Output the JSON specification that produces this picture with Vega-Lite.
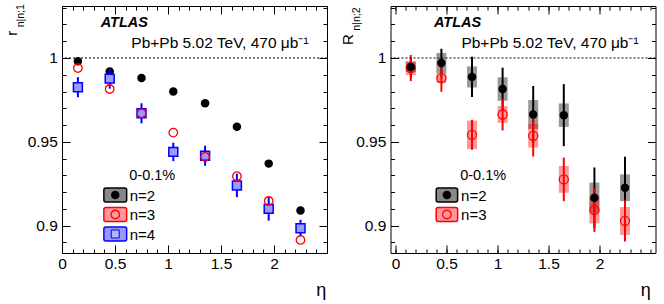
{
  "$schema": "https://vega.github.io/schema/vega-lite/v6.json",
  "background": "white",
  "padding": {"left": 4, "top": 3, "right": 0, "bottom": 0},
  "spacing": 63.5,
  "bounds": "flush",
  "datasets": {
    "left": [
      {"n": "n=2", "eta": 0.15, "v": 0.998},
      {"n": "n=2", "eta": 0.45, "v": 0.992},
      {"n": "n=2", "eta": 0.75, "v": 0.988},
      {"n": "n=2", "eta": 1.05, "v": 0.980},
      {"n": "n=2", "eta": 1.35, "v": 0.973},
      {"n": "n=2", "eta": 1.65, "v": 0.959},
      {"n": "n=2", "eta": 1.95, "v": 0.937},
      {"n": "n=2", "eta": 2.25, "v": 0.909},
      {"n": "n=3", "eta": 0.15, "v": 0.994},
      {"n": "n=3", "eta": 0.45, "v": 0.9815},
      {"n": "n=3", "eta": 0.75, "v": 0.967},
      {"n": "n=3", "eta": 1.05, "v": 0.9555},
      {"n": "n=3", "eta": 1.35, "v": 0.941},
      {"n": "n=3", "eta": 1.65, "v": 0.9295},
      {"n": "n=3", "eta": 1.95, "v": 0.9147},
      {"n": "n=3", "eta": 2.25, "v": 0.8915},
      {"n": "n=4", "eta": 0.15, "v": 0.9826, "lo": 0.9766, "hi": 0.9886},
      {"n": "n=4", "eta": 0.45, "v": 0.9877, "lo": 0.9817, "hi": 0.9937},
      {"n": "n=4", "eta": 0.75, "v": 0.967, "lo": 0.961, "hi": 0.973},
      {"n": "n=4", "eta": 1.05, "v": 0.944, "lo": 0.9385, "hi": 0.9495},
      {"n": "n=4", "eta": 1.35, "v": 0.9417, "lo": 0.9357, "hi": 0.9477},
      {"n": "n=4", "eta": 1.65, "v": 0.924, "lo": 0.917, "hi": 0.931},
      {"n": "n=4", "eta": 1.95, "v": 0.910, "lo": 0.903, "hi": 0.917},
      {"n": "n=4", "eta": 2.25, "v": 0.8985, "lo": 0.8935, "hi": 0.9035}
    ],
    "right": [
      {"n": "n=2", "eta": 0.15, "v": 0.9946, "lo": 0.9886, "hi": 1.0006, "slo": 0.9916, "shi": 0.9976},
      {"n": "n=2", "eta": 0.45, "v": 0.997, "lo": 0.9885, "hi": 1.0055, "slo": 0.991, "shi": 1.003},
      {"n": "n=2", "eta": 0.75, "v": 0.9887, "lo": 0.9767, "hi": 1.0007, "slo": 0.9824, "shi": 0.995},
      {"n": "n=2", "eta": 1.05, "v": 0.9815, "lo": 0.9688, "hi": 0.9942, "slo": 0.9745, "shi": 0.9885},
      {"n": "n=2", "eta": 1.35, "v": 0.9663, "lo": 0.9493, "hi": 0.9833, "slo": 0.9577, "shi": 0.9749},
      {"n": "n=2", "eta": 1.65, "v": 0.9659, "lo": 0.9474, "hi": 0.9844, "slo": 0.9589, "shi": 0.9729},
      {"n": "n=2", "eta": 1.95, "v": 0.9167, "lo": 0.8987, "hi": 0.9347, "slo": 0.9077, "shi": 0.9257},
      {"n": "n=2", "eta": 2.25, "v": 0.9226, "lo": 0.9041, "hi": 0.9411, "slo": 0.9146, "shi": 0.9306},
      {"n": "n=3", "eta": 0.15, "v": 0.994, "lo": 0.9862, "hi": 1.0018, "slo": 0.9898, "shi": 0.9982},
      {"n": "n=3", "eta": 0.45, "v": 0.988, "lo": 0.9798, "hi": 0.9962, "slo": 0.985, "shi": 0.991},
      {"n": "n=3", "eta": 0.75, "v": 0.9542, "lo": 0.9452, "hi": 0.9632, "slo": 0.9457, "shi": 0.9627},
      {"n": "n=3", "eta": 1.05, "v": 0.9663, "lo": 0.9568, "hi": 0.9758, "slo": 0.9613, "shi": 0.9713},
      {"n": "n=3", "eta": 1.35, "v": 0.9536, "lo": 0.9412, "hi": 0.966, "slo": 0.9466, "shi": 0.9606},
      {"n": "n=3", "eta": 1.65, "v": 0.9276, "lo": 0.9146, "hi": 0.9406, "slo": 0.9196, "shi": 0.9356},
      {"n": "n=3", "eta": 1.95, "v": 0.9093, "lo": 0.8963, "hi": 0.9223, "slo": 0.9013, "shi": 0.9173},
      {"n": "n=3", "eta": 2.25, "v": 0.9028, "lo": 0.8905, "hi": 0.9151, "slo": 0.8945, "shi": 0.9111}
    ]
  },
  "hconcat": [
    {
      "width": 265,
      "height": 247,
      "data": {"name": "left"},
      "resolve": {"axis": {"x": "independent", "y": "independent"}},
      "layer": [
        {
          "data": {"values": [{}]},
          "mark": {"type": "rule", "strokeDash": [2, 2], "color": "black", "strokeWidth": 1},
          "encoding": {"y": {"datum": 1, "type": "quantitative", "scale": {"domain": [0.8837, 1.031], "nice": false, "zero": false}, "axis": null}}
        },
        {
          "transform": [{"filter": "datum.n == 'n=2'"}],
          "mark": {"type": "point", "shape": "circle", "filled": true, "color": "black", "size": 72, "opacity": 1},
          "encoding": {
            "x": {"field": "eta", "type": "quantitative", "scale": {"domain": [0, 2.5], "nice": false, "zero": false},
                  "axis": {"orient": "bottom", "values": [0, 0.5, 1, 1.5, 2], "format": "~g", "tickSize": -8, "labelPadding": 11.5, "title": null}},
            "y": {"field": "v", "type": "quantitative", "scale": {"domain": [0.8837, 1.031], "nice": false, "zero": false},
                  "axis": {"orient": "left", "values": [0.9, 0.95, 1], "format": "~g", "tickSize": -8, "labelPadding": 12.7, "title": null}}
          }
        },
        {
          "transform": [{"filter": "datum.n == 'n=4'"}],
          "mark": {"type": "rule", "color": "blue", "strokeWidth": 2},
          "encoding": {
            "x": {"field": "eta", "type": "quantitative",
                  "axis": {"orient": "bottom", "values": [0, 0.1, 0.2, 0.3, 0.4, 0.5, 0.6, 0.7, 0.8, 0.9, 1, 1.1, 1.2, 1.3, 1.4, 1.5, 1.6, 1.7, 1.8, 1.9, 2, 2.1, 2.2, 2.3, 2.4, 2.5], "tickSize": -4, "labels": false, "title": null}},
            "y": {"field": "lo", "type": "quantitative",
                  "axis": {"orient": "left", "values": [0.89, 0.9, 0.91, 0.92, 0.93, 0.94, 0.95, 0.96, 0.97, 0.98, 0.99, 1, 1.01, 1.02, 1.03], "tickSize": -4, "labels": false, "title": null}},
            "y2": {"field": "hi"}
          }
        },
        {
          "transform": [{"filter": "datum.n == 'n=4'"}],
          "mark": {"type": "point", "shape": "square", "filled": true, "fill": "#9999ff", "stroke": "blue", "strokeWidth": 1.5, "size": 80, "opacity": 1},
          "encoding": {
            "x": {"field": "eta", "type": "quantitative",
                  "axis": {"orient": "top", "values": [0, 0.5, 1, 1.5, 2], "tickSize": -8, "labels": false, "title": null}},
            "y": {"field": "v", "type": "quantitative",
                  "axis": {"orient": "right", "values": [0.9, 0.95, 1], "tickSize": -8, "labels": false, "title": null}}
          }
        },
        {
          "transform": [{"filter": "datum.n == 'n=3'"}],
          "mark": {"type": "point", "shape": "circle", "filled": false, "color": "red", "strokeWidth": 1.3, "size": 72, "opacity": 1},
          "encoding": {
            "x": {"field": "eta", "type": "quantitative",
                  "axis": {"orient": "top", "values": [0, 0.1, 0.2, 0.3, 0.4, 0.5, 0.6, 0.7, 0.8, 0.9, 1, 1.1, 1.2, 1.3, 1.4, 1.5, 1.6, 1.7, 1.8, 1.9, 2, 2.1, 2.2, 2.3, 2.4, 2.5], "tickSize": -4, "labels": false, "title": null}},
            "y": {"field": "v", "type": "quantitative",
                  "axis": {"orient": "right", "values": [0.89, 0.9, 0.91, 0.92, 0.93, 0.94, 0.95, 0.96, 0.97, 0.98, 0.99, 1, 1.01, 1.02, 1.03], "tickSize": -4, "labels": false, "title": null}}
          }
        },
        {
          "data": {"values": [{}]},
          "mark": {"type": "text", "text": "ATLAS", "fontSize": 14.5, "fontWeight": "bold", "fontStyle": "italic", "align": "left", "baseline": "alphabetic"},
          "encoding": {"x": {"datum": 0.365, "type": "quantitative", "axis": null}, "y": {"datum": 1.0183, "type": "quantitative", "axis": null}}
        },
        {
          "data": {"values": [{}]},
          "mark": {"type": "text", "text": "Pb+Pb 5.02 TeV, 470 μb⁻¹", "fontSize": 15.5, "align": "left", "baseline": "alphabetic"},
          "encoding": {"x": {"datum": 0.654, "type": "quantitative", "axis": null}, "y": {"datum": 1.00595, "type": "quantitative", "axis": null}}
        },
        {
          "data": {"values": [{}]},
          "mark": {"type": "text", "text": "0-0.1%", "fontSize": 14.5, "align": "left", "baseline": "alphabetic"},
          "encoding": {"x": {"datum": 0.635, "type": "quantitative", "axis": null}, "y": {"datum": 0.92702, "type": "quantitative", "axis": null}}
        },
        {
          "data": {"values": [{}]},
          "mark": {"type": "rect", "fill": "#888888", "stroke": "black", "strokeWidth": 1.5, "cornerRadius": 2},
          "encoding": {"x": {"datum": 0.395, "type": "quantitative", "axis": null}, "x2": {"datum": 0.61}, "y": {"datum": 0.91411, "type": "quantitative", "axis": null}, "y2": {"datum": 0.92244}}
        },
        {
          "data": {"values": [{}]},
          "mark": {"type": "point", "shape": "circle", "filled": true, "color": "black", "size": 72, "opacity": 1},
          "encoding": {"x": {"datum": 0.5025, "type": "quantitative", "axis": null}, "y": {"datum": 0.91827, "type": "quantitative", "axis": null}}
        },
        {
          "data": {"values": [{}]},
          "mark": {"type": "rect", "fill": "#ff9999", "stroke": "red", "strokeWidth": 1.5, "cornerRadius": 2},
          "encoding": {"x": {"datum": 0.395, "type": "quantitative", "axis": null}, "x2": {"datum": 0.61}, "y": {"datum": 0.9025, "type": "quantitative", "axis": null}, "y2": {"datum": 0.91084}}
        },
        {
          "data": {"values": [{}]},
          "mark": {"type": "point", "shape": "circle", "filled": false, "color": "red", "strokeWidth": 1.3, "size": 72, "opacity": 1},
          "encoding": {"x": {"datum": 0.5025, "type": "quantitative", "axis": null}, "y": {"datum": 0.90667, "type": "quantitative", "axis": null}}
        },
        {
          "data": {"values": [{}]},
          "mark": {"type": "rect", "fill": "#9999ff", "stroke": "blue", "strokeWidth": 1.5, "cornerRadius": 2},
          "encoding": {"x": {"datum": 0.395, "type": "quantitative", "axis": null}, "x2": {"datum": 0.61}, "y": {"datum": 0.89089, "type": "quantitative", "axis": null}, "y2": {"datum": 0.89923}}
        },
        {
          "data": {"values": [{}]},
          "mark": {"type": "point", "shape": "square", "filled": true, "fill": "#b3b3ff", "stroke": "blue", "strokeWidth": 1, "size": 64, "opacity": 1},
          "encoding": {"x": {"datum": 0.5025, "type": "quantitative", "axis": null}, "y": {"datum": 0.89506, "type": "quantitative", "axis": null}}
        },
        {
          "data": {"values": [{}]},
          "mark": {"type": "text", "text": "n=2", "fontSize": 15, "align": "left", "baseline": "middle", "dy": 1},
          "encoding": {"x": {"datum": 0.638, "type": "quantitative", "axis": null}, "y": {"datum": 0.91827, "type": "quantitative", "axis": null}}
        },
        {
          "data": {"values": [{}]},
          "mark": {"type": "text", "text": "n=3", "fontSize": 15, "align": "left", "baseline": "middle", "dy": 1},
          "encoding": {"x": {"datum": 0.638, "type": "quantitative", "axis": null}, "y": {"datum": 0.90667, "type": "quantitative", "axis": null}}
        },
        {
          "data": {"values": [{}]},
          "mark": {"type": "text", "text": "n=4", "fontSize": 15, "align": "left", "baseline": "middle", "dy": 1},
          "encoding": {"x": {"datum": 0.638, "type": "quantitative", "axis": null}, "y": {"datum": 0.89506, "type": "quantitative", "axis": null}}
        },
        {
          "data": {"values": [{}]},
          "mark": {"type": "text", "text": "r", "fontSize": 15, "angle": 270, "align": "center", "baseline": "alphabetic"},
          "encoding": {"x": {"datum": -0.4217, "type": "quantitative", "axis": null}, "y": {"datum": 1.0147, "type": "quantitative", "axis": null}}
        },
        {
          "data": {"values": [{}]},
          "mark": {"type": "text", "text": "n|n;1", "fontSize": 10.5, "angle": 270, "align": "left", "baseline": "alphabetic"},
          "encoding": {"x": {"datum": -0.3557, "type": "quantitative", "axis": null}, "y": {"datum": 1.01827, "type": "quantitative", "axis": null}}
        },
        {
          "data": {"values": [{}]},
          "mark": {"type": "text", "text": "η", "fontSize": 18, "align": "center", "baseline": "alphabetic"},
          "encoding": {"x": {"datum": 2.446, "type": "quantitative", "axis": null}, "y": {"datum": 0.8582, "type": "quantitative", "axis": null}}
        }
      ]
    },
    {
      "width": 265,
      "height": 247,
      "data": {"name": "right"},
      "resolve": {"axis": {"x": "independent", "y": "independent"}},
      "layer": [
        {
          "data": {"values": [{}]},
          "mark": {"type": "rule", "strokeDash": [2, 2], "color": "black", "strokeWidth": 1},
          "encoding": {"y": {"datum": 1, "type": "quantitative", "scale": {"domain": [0.8837, 1.031], "nice": false, "zero": false}, "axis": null}}
        },
        {
          "transform": [{"filter": "datum.n == 'n=2'"}],
          "mark": {"type": "bar", "width": 10, "color": "black", "opacity": 0.4},
          "encoding": {
            "x": {"field": "eta", "type": "quantitative", "scale": {"domain": [0, 2.5], "nice": false, "zero": false},
                  "axis": {"orient": "bottom", "values": [0, 0.5, 1, 1.5, 2], "format": "~g", "tickSize": -8, "labelPadding": 11.5, "title": null}},
            "y": {"field": "slo", "type": "quantitative", "scale": {"domain": [0.8837, 1.031], "nice": false, "zero": false},
                  "axis": {"orient": "left", "values": [0.9, 0.95, 1], "format": "~g", "tickSize": -8, "labelPadding": 12.7, "title": null}},
            "y2": {"field": "shi"}
          }
        },
        {
          "transform": [{"filter": "datum.n == 'n=2'"}],
          "mark": {"type": "rule", "color": "black", "strokeWidth": 2},
          "encoding": {
            "x": {"field": "eta", "type": "quantitative",
                  "axis": {"orient": "bottom", "values": [0, 0.1, 0.2, 0.3, 0.4, 0.5, 0.6, 0.7, 0.8, 0.9, 1, 1.1, 1.2, 1.3, 1.4, 1.5, 1.6, 1.7, 1.8, 1.9, 2, 2.1, 2.2, 2.3, 2.4, 2.5], "tickSize": -4, "labels": false, "title": null}},
            "y": {"field": "lo", "type": "quantitative",
                  "axis": {"orient": "left", "values": [0.89, 0.9, 0.91, 0.92, 0.93, 0.94, 0.95, 0.96, 0.97, 0.98, 0.99, 1, 1.01, 1.02, 1.03], "tickSize": -4, "labels": false, "title": null}},
            "y2": {"field": "hi"}
          }
        },
        {
          "transform": [{"filter": "datum.n == 'n=3'"}],
          "mark": {"type": "bar", "width": 10, "color": "red", "opacity": 0.4},
          "encoding": {
            "x": {"field": "eta", "type": "quantitative",
                  "axis": {"orient": "top", "values": [0, 0.5, 1, 1.5, 2], "tickSize": -8, "labels": false, "title": null}},
            "y": {"field": "slo", "type": "quantitative",
                  "axis": {"orient": "right", "values": [0.9, 0.95, 1], "tickSize": -8, "labels": false, "title": null}},
            "y2": {"field": "shi"}
          }
        },
        {
          "transform": [{"filter": "datum.n == 'n=3'"}],
          "mark": {"type": "rule", "color": "red", "strokeWidth": 2},
          "encoding": {
            "x": {"field": "eta", "type": "quantitative",
                  "axis": {"orient": "top", "values": [0, 0.1, 0.2, 0.3, 0.4, 0.5, 0.6, 0.7, 0.8, 0.9, 1, 1.1, 1.2, 1.3, 1.4, 1.5, 1.6, 1.7, 1.8, 1.9, 2, 2.1, 2.2, 2.3, 2.4, 2.5], "tickSize": -4, "labels": false, "title": null}},
            "y": {"field": "lo", "type": "quantitative",
                  "axis": {"orient": "right", "values": [0.89, 0.9, 0.91, 0.92, 0.93, 0.94, 0.95, 0.96, 0.97, 0.98, 0.99, 1, 1.01, 1.02, 1.03], "tickSize": -4, "labels": false, "title": null}},
            "y2": {"field": "hi"}
          }
        },
        {
          "transform": [{"filter": "datum.n == 'n=3'"}],
          "mark": {"type": "point", "shape": "circle", "filled": false, "color": "red", "strokeWidth": 1.3, "size": 81, "opacity": 1},
          "encoding": {
            "x": {"field": "eta", "type": "quantitative", "axis": null},
            "y": {"field": "v", "type": "quantitative", "axis": null}
          }
        },
        {
          "transform": [{"filter": "datum.n == 'n=2'"}],
          "mark": {"type": "point", "shape": "circle", "filled": true, "color": "black", "size": 72, "opacity": 1},
          "encoding": {
            "x": {"field": "eta", "type": "quantitative", "axis": null},
            "y": {"field": "v", "type": "quantitative", "axis": null}
          }
        },
        {
          "data": {"values": [{}]},
          "mark": {"type": "text", "text": "ATLAS", "fontSize": 14.5, "fontWeight": "bold", "fontStyle": "italic", "align": "left", "baseline": "alphabetic"},
          "encoding": {"x": {"datum": 0.377, "type": "quantitative", "axis": null}, "y": {"datum": 1.0183, "type": "quantitative", "axis": null}}
        },
        {
          "data": {"values": [{}]},
          "mark": {"type": "text", "text": "Pb+Pb 5.02 TeV, 470 μb⁻¹", "fontSize": 15.5, "align": "left", "baseline": "alphabetic"},
          "encoding": {"x": {"datum": 0.646, "type": "quantitative", "axis": null}, "y": {"datum": 1.00595, "type": "quantitative", "axis": null}}
        },
        {
          "data": {"values": [{}]},
          "mark": {"type": "text", "text": "0-0.1%", "fontSize": 14.5, "align": "left", "baseline": "alphabetic"},
          "encoding": {"x": {"datum": 0.634, "type": "quantitative", "axis": null}, "y": {"datum": 0.92702, "type": "quantitative", "axis": null}}
        },
        {
          "data": {"values": [{}]},
          "mark": {"type": "rect", "fill": "#888888", "stroke": "black", "strokeWidth": 1.5, "cornerRadius": 2},
          "encoding": {"x": {"datum": 0.399, "type": "quantitative", "axis": null}, "x2": {"datum": 0.609}, "y": {"datum": 0.91411, "type": "quantitative", "axis": null}, "y2": {"datum": 0.92244}}
        },
        {
          "data": {"values": [{}]},
          "mark": {"type": "point", "shape": "circle", "filled": true, "color": "black", "size": 72, "opacity": 1},
          "encoding": {"x": {"datum": 0.504, "type": "quantitative", "axis": null}, "y": {"datum": 0.91827, "type": "quantitative", "axis": null}}
        },
        {
          "data": {"values": [{}]},
          "mark": {"type": "rect", "fill": "#ff9999", "stroke": "red", "strokeWidth": 1.5, "cornerRadius": 2},
          "encoding": {"x": {"datum": 0.399, "type": "quantitative", "axis": null}, "x2": {"datum": 0.609}, "y": {"datum": 0.9025, "type": "quantitative", "axis": null}, "y2": {"datum": 0.91084}}
        },
        {
          "data": {"values": [{}]},
          "mark": {"type": "point", "shape": "circle", "filled": false, "color": "red", "strokeWidth": 1.3, "size": 72, "opacity": 1},
          "encoding": {"x": {"datum": 0.504, "type": "quantitative", "axis": null}, "y": {"datum": 0.90667, "type": "quantitative", "axis": null}}
        },
        {
          "data": {"values": [{}]},
          "mark": {"type": "text", "text": "n=2", "fontSize": 15, "align": "left", "baseline": "middle", "dy": 1},
          "encoding": {"x": {"datum": 0.643, "type": "quantitative", "axis": null}, "y": {"datum": 0.91827, "type": "quantitative", "axis": null}}
        },
        {
          "data": {"values": [{}]},
          "mark": {"type": "text", "text": "n=3", "fontSize": 15, "align": "left", "baseline": "middle", "dy": 1},
          "encoding": {"x": {"datum": 0.643, "type": "quantitative", "axis": null}, "y": {"datum": 0.90667, "type": "quantitative", "axis": null}}
        },
        {
          "data": {"values": [{}]},
          "mark": {"type": "text", "text": "R", "fontSize": 15, "angle": 270, "align": "center", "baseline": "alphabetic"},
          "encoding": {"x": {"datum": -0.4167, "type": "quantitative", "axis": null}, "y": {"datum": 1.01095, "type": "quantitative", "axis": null}}
        },
        {
          "data": {"values": [{}]},
          "mark": {"type": "text", "text": "n|n;2", "fontSize": 10.5, "angle": 270, "align": "left", "baseline": "alphabetic"},
          "encoding": {"x": {"datum": -0.351, "type": "quantitative", "axis": null}, "y": {"datum": 1.0163, "type": "quantitative", "axis": null}}
        },
        {
          "data": {"values": [{}]},
          "mark": {"type": "text", "text": "η", "fontSize": 18, "align": "center", "baseline": "alphabetic"},
          "encoding": {"x": {"datum": 2.4525, "type": "quantitative", "axis": null}, "y": {"datum": 0.8582, "type": "quantitative", "axis": null}}
        }
      ]
    }
  ],
  "config": {
    "font": "Liberation Sans",
    "view": {"stroke": "black", "strokeWidth": 1},
    "axis": {"domain": false, "grid": false, "tickColor": "black", "tickWidth": 1, "labelColor": "black", "labelFont": "Liberation Sans", "labelFontSize": 15.5, "labelFlush": false, "labelOverlap": false},
    "text": {"font": "Liberation Sans", "color": "black"}
  }
}
